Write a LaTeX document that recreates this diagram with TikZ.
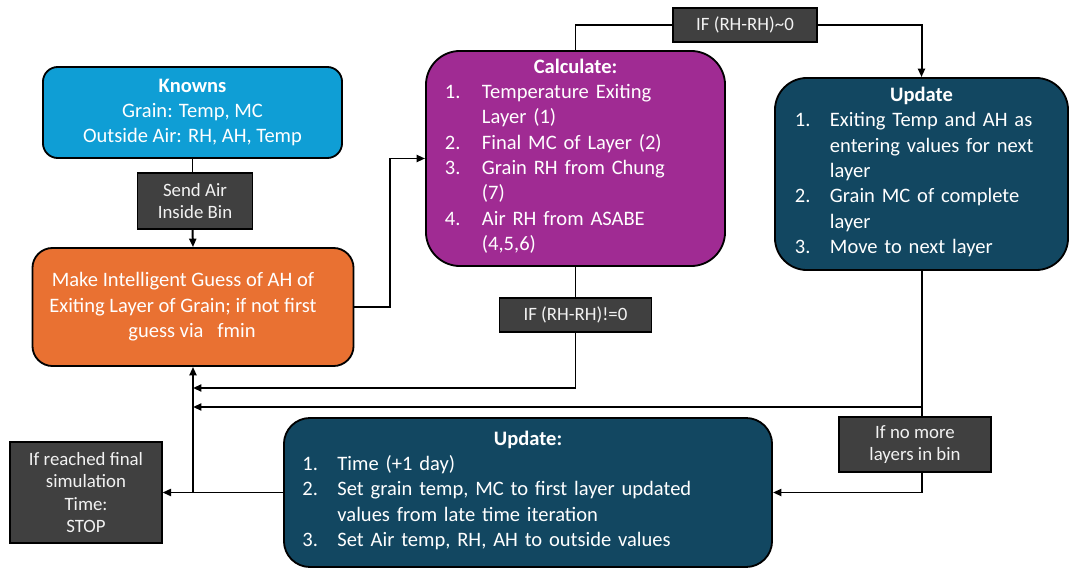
\documentclass[tikz,border=0pt]{standalone}
\usepackage{fontspec}
\setmainfont{Carlito}
\usetikzlibrary{arrows.meta}
\definecolor{knownblue}{HTML}{0F9ED5}
\definecolor{guessorange}{HTML}{E97132}
\definecolor{calcpurple}{HTML}{A02B93}
\definecolor{updteal}{HTML}{124761}
\definecolor{condgray}{HTML}{404040}
\newcommand{\bigtext}{\fontsize{14.6}{18}\selectfont}
\newcommand{\smalltext}{\fontsize{13.4}{16}\selectfont}

\begin{document}
\begin{tikzpicture}[x = 0.025cm, y = -0.025cm,
  box/.style = {draw = black, line width = 1.3pt, text = white, font = \bigtext, align = center, inner sep = 0pt},
  cond/.style = {draw = black, line width = 0.8pt, fill = condgray, text = white!95!black, font = \smalltext, align = center, inner sep = 0pt},
  link/.style = {line width = 1.4pt},
  arr/.style = {link, -{Triangle[length = 6pt, width = 5pt]}}]
\useasboundingbox (0,0) rectangle (1069,570);

\node[box, fill = knownblue, rounded corners = 0.37cm, minimum width = 7.475cm, minimum height = 2.275cm] (knowns) at (192.5,112.5) {\textbf{Knowns}\\Grain: Temp, MC\\Outside Air: RH, AH, Temp};
\node[cond, minimum width = 2.875cm, minimum height = 1.4cm] (send) at (195,201) {Send Air\\Inside Bin};
\node[box, fill = guessorange, rounded corners = 0.5cm, minimum width = 8.025cm, minimum height = 2.95cm] (guess) at (193,307) {\hspace*{-0.5cm}\begin{tabular}{@{}c@{}}Make Intelligent Guess of AH of\\Exiting Layer of Grain; if not first\\\hspace*{0.45cm}guess via\ \ \ fmin\end{tabular}};
\node[box, fill = calcpurple, rounded corners = 0.85cm, minimum width = 7.475cm, minimum height = 5.375cm, text width = 6.525cm] (calc) at (575.5,158.5) {\textbf{Calculate:}\\
  \begin{tabular}[t]{@{}p{0.925cm}@{}p{5.6cm}@{}}
  1. & Temperature Exiting\\ & Layer (1)\\ 2. & Final MC of Layer (2)\\ 3. & Grain RH from Chung\\ & (7)\\ 4. & Air RH from ASABE\\ & (4,5,6)
  \end{tabular}};
\node[box, fill = updteal, rounded corners = 0.8cm, minimum width = 7.325cm, minimum height = 4.8cm, text width = 6.325cm] (upd) at (921.5,174) {\textbf{Update}\\
  \begin{tabular}[t]{@{}p{0.875cm}@{}p{5.45cm}@{}}
  1. & Exiting Temp and AH as\\ & entering values for next\\ & layer\\ 2. & Grain MC of complete\\ & layer\\ 3. & Move to next layer
  \end{tabular}};
\node[box, fill = updteal, rounded corners = 0.65cm, minimum width = 12.2cm, minimum height = 3.725cm, text width = 11.3cm] (tupd) at (528,492.5) {\textbf{Update:}\\
  \begin{tabular}[t]{@{}p{0.875cm}@{}p{10.4cm}@{}}
  1. & Time (+1 day)\\ 2. & Set grain temp, MC to first layer updated\\ & values from late time iteration\\ 3. & Set Air temp, RH, AH to outside values
  \end{tabular}};
\node[cond, minimum width = 3.6cm, minimum height = 0.85cm] (ifeq) at (745,25) {IF (RH-RH)\textasciitilde 0};
\node[cond, minimum width = 3.8cm, minimum height = 0.85cm] (neq) at (575.5,315) {IF (RH-RH)!=0};
\node[cond, minimum width = 3.8cm, minimum height = 1.375cm] (nomore) at (915,444.5) {If no more\\layers in bin};
\node[cond, minimum width = 3.8cm, minimum height = 2.525cm] (stop) at (86,492.5) {If reached final\\simulation\\Time:\\STOP};
\coordinate (fb1) at (193,388);
\coordinate (fb2) at (193,407);
\coordinate (join) at (guess.south |- tupd.west);

\draw[link] (knowns.south) -- (knowns.south |- send.north);
\draw[arr] (knowns.south |- send.south) -- (guess.north);
\draw[arr] (guess.east) -- ++(36,0) |- (calc.west);
\draw[link] (calc.north) |- (ifeq.west);
\draw[arr] (ifeq.east) -| (upd.north);
\draw[link] (calc.south) -- (neq.north);
\draw[arr] (neq.south) |- (fb1);
\draw[link] (upd.south) -- (upd.south |- nomore.north);
\draw[arr] (upd.south |- fb2) -- (fb2);
\draw[arr] (upd.south |- nomore.south) |- (tupd.east);
\draw[arr] (tupd.west) -- (stop.east);
\draw[arr] (join) -- (guess.south);
\end{tikzpicture}
\end{document}
